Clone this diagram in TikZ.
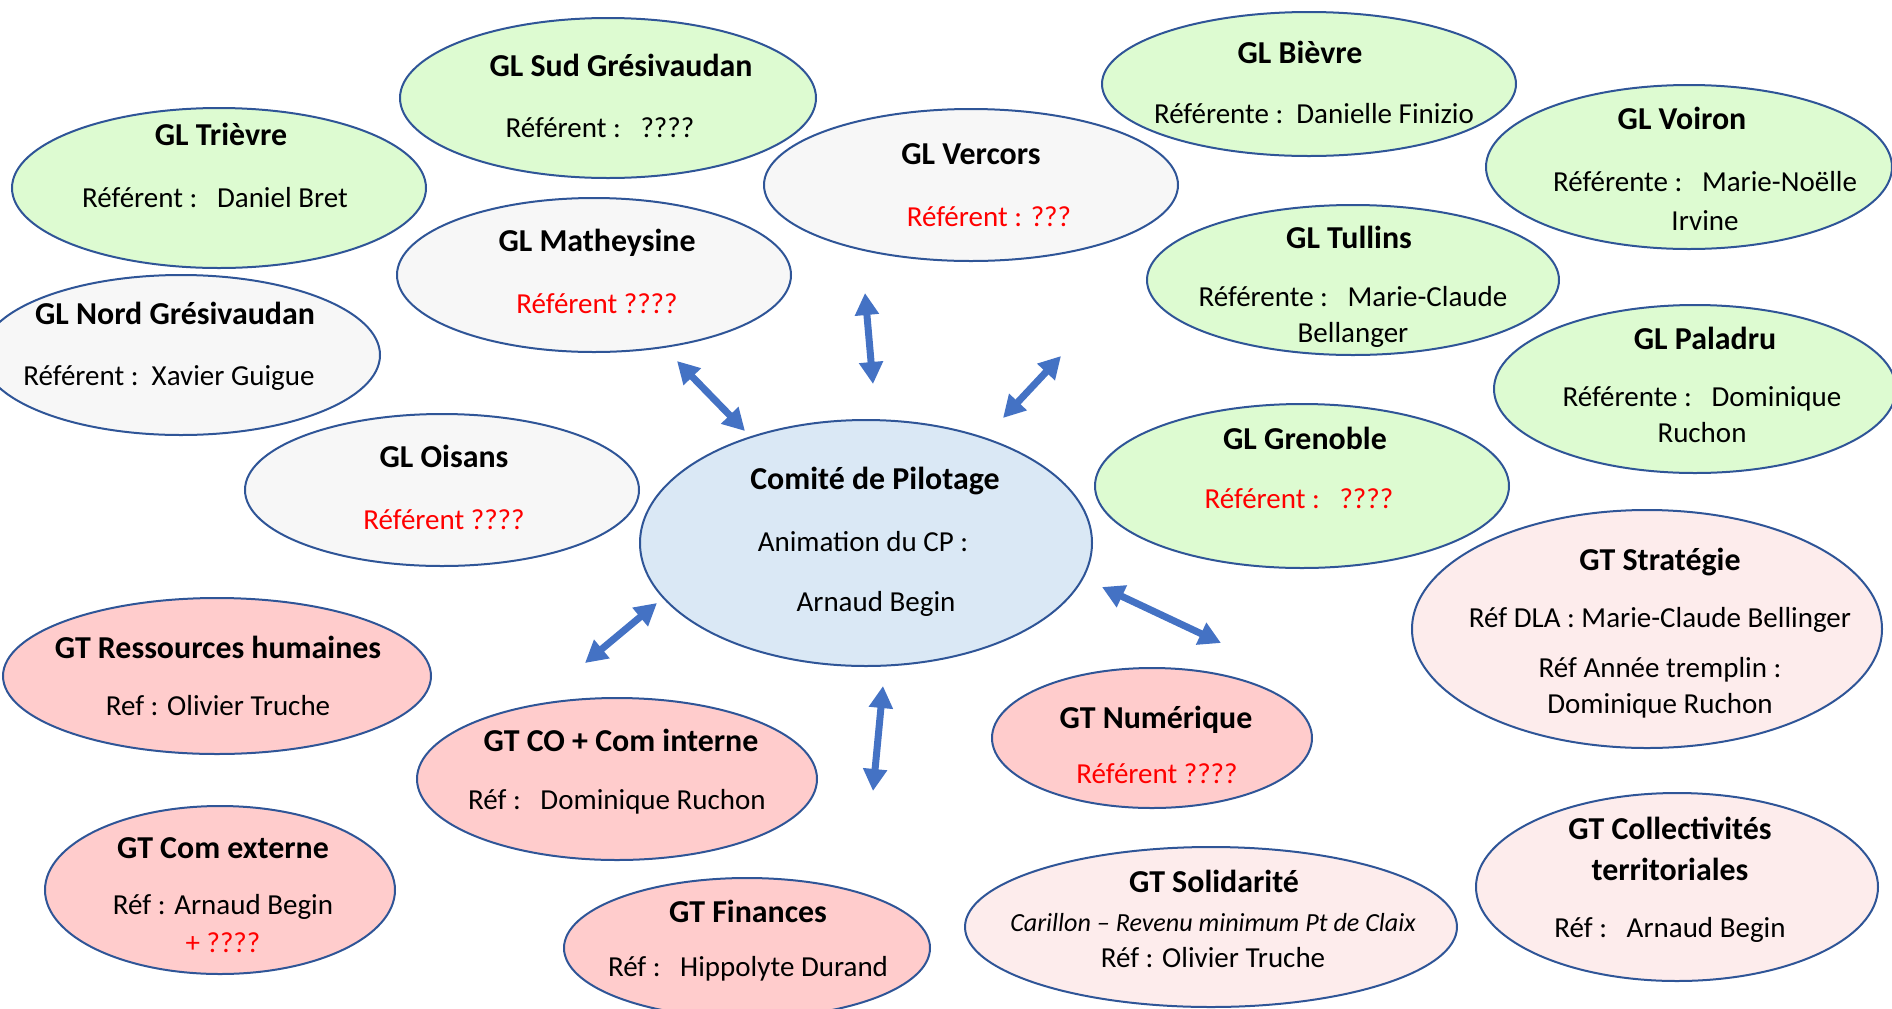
\documentclass[tikz,border=0pt]{standalone}
\usepackage{fontspec}
\setmainfont{Carlito}[Scale=1.45]
\usepackage{tikz}
\usetikzlibrary{shapes.geometric,arrows.meta}
\definecolor{rim}{HTML}{2F5597}
\definecolor{glgreen}{HTML}{DDFBD1}
\definecolor{glgrey}{HTML}{F7F7F7}
\definecolor{cpblue}{HTML}{DAE8F5}
\definecolor{gtpink}{HTML}{FFCCCC}
\definecolor{gtpale}{HTML}{FDECEC}
\definecolor{linkblue}{HTML}{4472C4}
\definecolor{refred}{HTML}{FF0000}
\tikzset{%
    blob/.style={ellipse, draw=rim, line width=1pt, inner sep=0pt},
    green/.style={blob, fill=glgreen},
    grey/.style={blob, fill=glgrey},
    pink/.style={blob, fill=gtpink},
    pale/.style={blob, fill=gtpale},
    lbl/.style={inner sep=0pt, text height=10pt, text depth=3pt, yshift=-1.75pt},
    ttl/.style={lbl, font=\fontsize{11}{13}\selectfont\bfseries},
    ask/.style={lbl, text=refred},
    link/.style={linkblue, line width=3.5pt,
        {Triangle[length=11pt,width=11.5pt]}-{Triangle[length=11pt,width=11.5pt]}}
}

\begin{document}
\begin{tikzpicture}[x=0.5pt,y=-0.5pt]
    \useasboundingbox (0,0) rectangle (1892,1008);

    % groupes locaux
    \node[green, minimum width=208pt, minimum height=80pt] (sud) at (608,98) {};
    \node[ttl] (sudT) at (621,66) {GL Sud Grésivaudan};
    \node[lbl] (sudR) at (600,127) {Référent :\ \ \ ????};

    \node[green, minimum width=207pt, minimum height=80pt] (trieve) at (219,188) {};
    \node[ttl] (trieveT) at (221,135) {GL Trièvre};
    \node[lbl] (trieveR) at (215,197) {Référent :\ \ \ Daniel Bret};

    \node[green, minimum width=207pt, minimum height=72pt] (bievre) at (1309,84) {};
    \node[ttl] (bievreT) at (1300,53) {GL Bièvre};
    \node[lbl] (bievreR) at (1314,113) {Référente :\ \ Danielle Finizio};

    \node[grey, minimum width=207pt, minimum height=76pt] (vercors) at (971,185) {};
    \node[ttl] (vercorsT) at (971,154) {GL Vercors};
    \node[ask] (vercorsR) at (989,216) {Référent : ???};

    \node[green, minimum width=203pt, minimum height=82pt] (voiron) at (1689,167) {};
    \node[ttl] (voironT) at (1682,119) {GL Voiron};
    \node[lbl] (voironR) at (1705,181) {Référente :\ \ \ Marie-Noëlle};
    \node[lbl] (voironS) at (1705,220) {Irvine};

    \node[grey, minimum width=197pt, minimum height=77pt] (mathey) at (594,275) {};
    \node[ttl] (matheyT) at (597,241) {GL Matheysine};
    \node[ask] (matheyR) at (597,303) {Référent ????};

    \node[green, minimum width=206pt, minimum height=75pt] (tullins) at (1353,280) {};
    \node[ttl] (tullinsT) at (1349,238) {GL Tullins};
    \node[lbl] (tullinsR) at (1353,296) {Référente :\ \ \ Marie-Claude};
    \node[lbl] (tullinsS) at (1353,332) {Bellanger};

    \node[grey, minimum width=199pt, minimum height=80pt] (nord) at (181,355) {};
    \node[ttl] (nordT) at (175,314) {GL Nord Grésivaudan};
    \node[lbl] (nordR) at (169,375) {Référent :\ \ Xavier Guigue};

    \node[green, minimum width=201pt, minimum height=84pt] (paladru) at (1695,389) {};
    \node[ttl] (paladruT) at (1705,339) {GL Paladru};
    \node[lbl] (paladruR) at (1702,396) {Référente :\ \ \ Dominique};
    \node[lbl] (paladruS) at (1702,432) {Ruchon};

    \node[grey, minimum width=197pt, minimum height=76pt] (oisans) at (442,490) {};
    \node[ttl] (oisansT) at (444,457) {GL Oisans};
    \node[ask] (oisansR) at (444,519) {Référent ????};

    \node[green, minimum width=207pt, minimum height=82pt] (grenoble) at (1302,486) {};
    \node[ttl] (grenobleT) at (1305,439) {GL Grenoble};
    \node[ask] (grenobleR) at (1299,498) {Référent :\ \ \ ????};

    % comite
    \node[blob, fill=cpblue, minimum width=226pt, minimum height=123pt] (cp) at (866,543) {};
    \node[ttl] (cpT) at (875,479) {Comité de Pilotage};
    \node[lbl] (cpR) at (863,541) {Animation du CP :};
    \node[lbl] (cpS) at (876,601) {Arnaud Begin};

    % groupes thematiques
    \node[pale, minimum width=235pt, minimum height=119pt] (strat) at (1647,629) {};
    \node[ttl] (stratT) at (1660,560) {GT Stratégie};
    \node[lbl] (stratR) at (1660,617) {Réf DLA : Marie-Claude Bellinger};
    \node[lbl] (stratS) at (1660,667) {Réf Année tremplin :};
    \node[lbl] (stratU) at (1660,703) {Dominique Ruchon};

    \node[pink, minimum width=214pt, minimum height=78pt] (rh) at (217,676) {};
    \node[ttl] (rhT) at (218,648) {GT Ressources humaines};
    \node[lbl] (rhR) at (218,705) {Ref : Olivier Truche};

    \node[pink, minimum width=200pt, minimum height=81pt] (co) at (617,779) {};
    \node[ttl] (coT) at (621,741) {GT CO + Com interne};
    \node[lbl] (coR) at (617,799) {Réf :\ \ \ Dominique Ruchon};

    \node[pink, minimum width=160pt, minimum height=70pt] (num) at (1152,738) {};
    \node[ttl] (numT) at (1156,718) {GT Numérique};
    \node[ask] (numR) at (1157,773) {Référent ????};

    \node[pink, minimum width=175pt, minimum height=84pt] (comext) at (220,890) {};
    \node[ttl] (comextT) at (223,848) {GT Com externe};
    \node[lbl] (comextR) at (223,904) {Réf : Arnaud Begin};
    \node[ask] (comextS) at (223,942) {+ ????};

    \node[pink, minimum width=183pt, minimum height=70pt] (fin) at (747,948) {};
    \node[ttl] (finT) at (748,912) {GT Finances};
    \node[lbl] (finR) at (748,966) {Réf :\ \ \ Hippolyte Durand};

    \node[pale, minimum width=246pt, minimum height=80pt] (solid) at (1211,927) {};
    \node[ttl] (solidT) at (1214,882) {GT Solidarité};
    \node[lbl, font=\small\itshape] (solidR) at (1213,921) {Carillon – Revenu minimum Pt de Claix};
    \node[lbl] (solidS) at (1213,957) {Réf : Olivier Truche};

    \node[pale, minimum width=201pt, minimum height=94pt] (coll) at (1677,887) {};
    \node[ttl] (collT) at (1670,829) {GT Collectivités};
    \node[ttl] (collU) at (1670,870) {territoriales};
    \node[lbl] (collR) at (1670,927) {Réf :\ \ \ Arnaud Begin};

    % fleches
    \coordinate (upA) at (865,293);   \coordinate (upB) at (873,384);
    \coordinate (ulA) at (677,361);   \coordinate (ulB) at (745,431);
    \coordinate (urA) at (1061,356);  \coordinate (urB) at (1003,418);
    \coordinate (rA) at (1102,587);   \coordinate (rB) at (1221,643);
    \coordinate (llA) at (657,603);   \coordinate (llB) at (585,663);
    \coordinate (dnA) at (883,686);   \coordinate (dnB) at (873,791);
    \draw[link] (upA) -- (upB);
    \draw[link] (ulA) -- (ulB);
    \draw[link] (urA) -- (urB);
    \draw[link] (rA) -- (rB);
    \draw[link] (llA) -- (llB);
    \draw[link] (dnA) -- (dnB);
\end{tikzpicture}
\end{document}
